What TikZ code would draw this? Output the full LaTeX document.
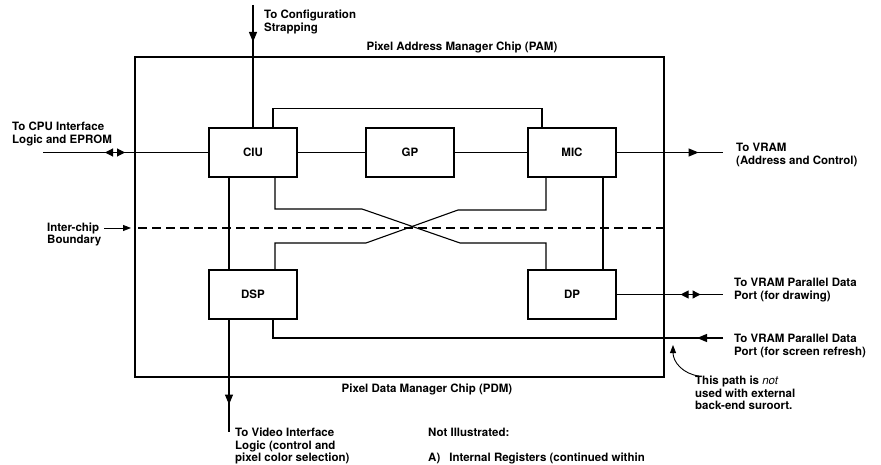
\documentclass[tikz,border=0pt]{standalone}
\usepackage{fontspec}
\setmainfont{TeX Gyre Heros}
\usetikzlibrary{arrows.meta, positioning, decorations.markings, calc}

\begin{document}
\begin{tikzpicture}[x=1pt, y=-1pt,
  every node/.style={font=\fontsize{11.5}{12.5}\selectfont\bfseries, inner sep=0pt},
  blk/.style={draw, line width=1.1pt, minimum width=88pt, minimum height=49pt},
  wire/.style={line width=1.1pt},
  lbl/.style={anchor=north west, align=left},
  tipat/.style={postaction={decorate}, decoration={markings,
    mark=at position #1 with {\arrow{Triangle[length=10pt,width=8pt]}}}},
  dbl/.style 2 args={postaction={decorate}, decoration={markings,
    mark=at position #1 with {\arrowreversed{Triangle[length=8pt,width=8pt]}},
    mark=at position #2 with {\arrow{Triangle[length=8pt,width=8pt]}}}}
]
\useasboundingbox (0,0) rectangle (881,465);

% the two chips
\coordinate (pamNW) at (135,57);
\coordinate (pdmSE) at (664,377);
\draw[wire] (pamNW) rectangle (pdmSE);
\node (pamtxt) at (462,47) {Pixel Address Manager Chip (PAM)};
\node (pdmtxt) at (427,389) {Pixel Data Manager Chip (PDM)};

\node[blk] (ciu) at (253,152.5) {CIU};
\node[blk] (gp)  at (410,152.5) {GP};
\node[blk] (mic) at (572,152.5) {MIC};
\node[blk] (dsp) at (253,294.5) {DSP};
\node[blk] (dp)  at (572,294.5) {DP};

% inter-chip boundary
\coordinate (bndL) at (138,228);
\coordinate (bndR) at (664,228);
\draw[wire, dash pattern=on 9pt off 5pt] (bndL) -- (bndR);
\node[anchor=west] (ic)  at (47,228) {Inter-chip};
\node[anchor=west] (icb) at (47,241) {Boundary};
\coordinate (icTip) at (131,228);
\draw[line width=0.9pt, -{Triangle[length=8pt,width=6pt]}] ([xshift=5pt]ic.east) -- (icTip);

% internal paths
\draw[wire] (ciu) -- (gp);
\draw[wire] (gp) -- (mic);
\draw[wire] ([xshift=20pt]ciu.north) -- ++(0,-19) -| ([xshift=-30pt]mic.north);
\draw[wire] ([xshift=22pt]ciu.south) |- (362,209) -- (460,243) -| ([xshift=-26pt]dp.north);
\draw[wire] ([xshift=22pt]dsp.north) |- (366,243) -- (458,210) -| ([xshift=-26pt]mic.south);
\draw[wire] ([xshift=31pt]mic.south) -- ([xshift=31pt]dp.north);
\draw[wire] ([xshift=-24pt]ciu.south) -- ([xshift=-24pt]dsp.north);

% external connections
\coordinate (cfg) at (253,5);
\draw[wire, tipat=37pt] (cfg) -- (ciu.north);
\node[lbl] (cfgtxt) at (264,10) {To Configuration\\Strapping};

\coordinate (cpu) at (43,152.5);
\draw[wire, dbl={62pt}{82pt}] (cpu) -- (ciu);
\node[lbl] (cputxt) at (12,122) {To CPU Interface\\Logic and EPROM};

\coordinate (vram) at (723,152.5);
\draw[wire, tipat=82pt] (mic) -- (vram);
\node[lbl] (vramtxt) at (736,143) {To VRAM\\(Address and Control)};

\coordinate (vdraw) at (723,294.5);
\draw[wire, dbl={64pt}{84pt}] (dp) -- (vdraw);
\node[lbl] (drawtxt) at (734,278) {To VRAM Parallel Data\\Port (for drawing)};

\coordinate (vref) at (723,338);
\draw[wire, tipat=26pt] (vref) -| ([xshift=20pt]dsp.south);
\node[lbl] (reftxt) at (734,334) {To VRAM Parallel Data\\Port (for screen refresh)};

\coordinate (vid) at (229,432);
\draw[wire, tipat=85pt] ([xshift=-24pt]dsp.south) -- (vid);
\node[lbl] (vidtxt) at (235,428) {To Video Interface\\Logic (control and\\pixel color selection)};

% note on the refresh path
\node[lbl] (note) at (695,376) {This path is {\mdseries\itshape not}\\used with external\\back-end suroort.};
\coordinate (noteTip) at (673,345);
\draw[line width=0.9pt, -{Triangle[length=8pt,width=6pt]}] ([xshift=4pt]note.north west) .. controls (683,374) and (673,362) .. (noteTip);

\node[anchor=west] (notill) at (428,432) {Not Illustrated:};
\node[anchor=west] (itemA) at (428,458) {A)\hspace{9pt}Internal Registers (continued within};
\end{tikzpicture}
\end{document}
